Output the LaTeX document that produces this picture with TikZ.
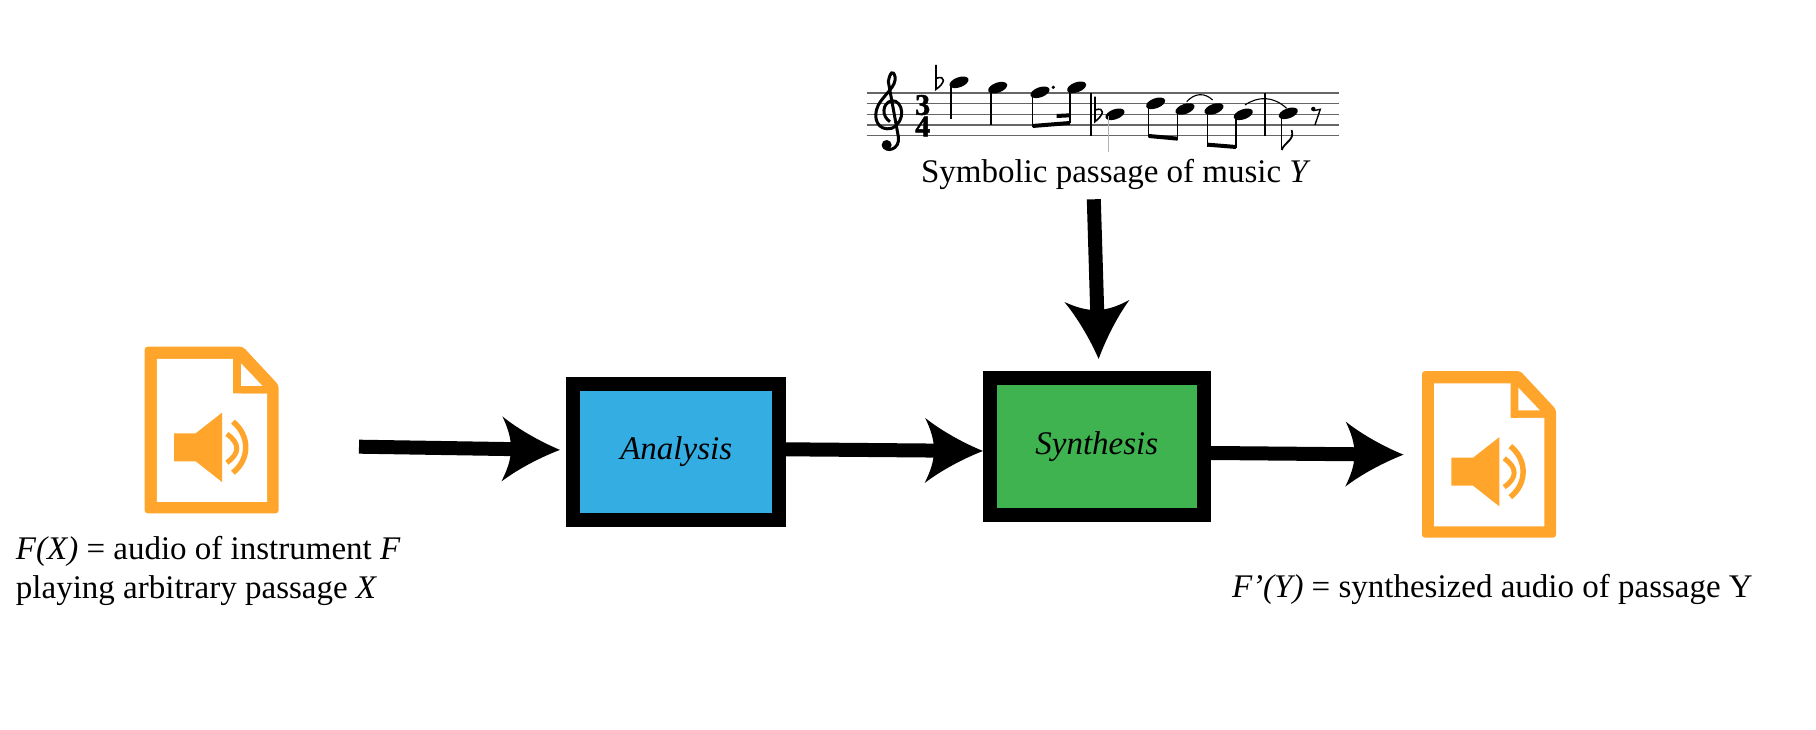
\documentclass[tikz,border=0pt]{standalone}
\usepackage{fontspec}
\setmainfont{Liberation Serif}
\usetikzlibrary{arrows.meta}
\pgfdeclarearrow{
  name=AudioTip,
  setup code={
    \pgfarrowssettipend{0pt}
    \pgfarrowssetlineend{-47pt}
    \pgfarrowssetbackend{-58pt}
    \pgfarrowssetvisualbackend{-49pt}
    \pgfarrowshullpoint{0pt}{0pt}
    \pgfarrowshullpoint{-58pt}{32.5pt}
    \pgfarrowshullpoint{-58pt}{-32.5pt}
  },
  drawing code={
    \pgfpathmoveto{\pgfpointorigin}
    \pgfpathcurveto{\pgfpoint{-20pt}{8pt}}{\pgfpoint{-42pt}{20pt}}{\pgfpoint{-58pt}{32.5pt}}
    \pgfpathcurveto{\pgfpoint{-53pt}{22pt}}{\pgfpoint{-49pt}{12pt}}{\pgfpoint{-49pt}{0pt}}
    \pgfpathcurveto{\pgfpoint{-49pt}{-12pt}}{\pgfpoint{-53pt}{-22pt}}{\pgfpoint{-58pt}{-32.5pt}}
    \pgfpathcurveto{\pgfpoint{-42pt}{-20pt}}{\pgfpoint{-20pt}{-8pt}}{\pgfpointorigin}
    \pgfpathclose
    \pgfusepathqfill
  }
}
\tikzset{
  blockbox/.style={draw=black,line width=14pt,inner sep=0pt,font=\fontsize{33}{38}\selectfont\itshape},
  flowline/.style={line width=14pt,draw=black,-{AudioTip}},
  captiontext/.style={anchor=base west,inner sep=0pt,outer sep=0pt,font=\fontsize{33}{38}\selectfont},
  metertext/.style={inner sep=0pt,align=center,font=\fontsize{30}{21.5}\selectfont\bfseries\addfontfeature{FakeBold=1.5}},
  staffline/.style={draw=staffColor,line width=1.4pt},
  stemline/.style={draw=black,line width=1.4pt},
  beamline/.style={draw=black,line width=4pt},
  headsize/.style={x radius=10pt,y radius=5pt,rotate=20},
  pics/audiofile/.style={code={
    \path[fill=audioColor,rounded corners=3pt] (0,0) -- (134,0) -- (134,128.3) -- (98.3,166.6) -- (0,166.6) -- cycle;
    \path[fill=white] (12.2,11.3) -- (122.4,11.3) -- (122.4,120) -- (88.6,120) -- (88.6,154.3) -- (12.2,154.3) -- cycle;
    \path[fill=audioColor] (88.6,160) -- (96.4,160) -- (96.4,120) -- (88.6,120) -- cycle;
    \path[fill=audioColor] (96.4,154.3) -- (122.4,127.3) -- (122.4,120) -- (96.4,120) -- cycle;
    \path[fill=white] (96.4,150) -- (117.9,127.3) -- (96.4,127.3) -- cycle;
    \path[fill=audioColor] (29.4,52) -- (51.1,52) -- (77.4,31.3) -- (77.4,100.6) -- (51.1,80) -- (29.4,80) -- cycle;
    \path[draw=audioColor,line width=5pt] (82.2,79.3) .. controls (95.5,70) and (95.5,60) .. (82.2,50.6);
    \path[draw=audioColor,line width=5.5pt] (88.3,91.6) .. controls (105.4,78) and (105.4,54) .. (88.3,40.6);
  }}
}
\begin{document}
\begin{tikzpicture}[x=1pt,y=1pt]
\definecolor{fillColor}{RGB}{255,255,255}
\definecolor{audioColor}{RGB}{255,165,43}
\definecolor{analysisColor}{RGB}{51,173,226}
\definecolor{synthesisColor}{RGB}{63,179,80}
\definecolor{staffColor}{gray}{0.4}
\path[use as bounding box,fill=fillColor,fill opacity=0.00] (0,0) rectangle (1816,730);

\pic (audioin) at (144.6,216.7) {audiofile};
\pic (audioout) at (1422,192.3) {audiofile};

\node[blockbox,fill=analysisColor,minimum width=205.5pt,minimum height=136.6pt] (analysis) at (676.2,278) {Analysis};
\node[blockbox,fill=synthesisColor,minimum width=213.7pt,minimum height=137pt] (synthesis) at (1096.8,283.5) {Synthesis};

\coordinate (audiointail) at (359,283.3);
\coordinate (audioouttip) at (1403.5,275.3);
\coordinate (scoretail) at (1093.8,530.7);

\draw[flowline,shorten >=6.5pt] (audiointail) -- ([yshift=2pt]analysis.west);
\draw[flowline] ([yshift=2.7pt]analysis.east) -- ([yshift=-4.5pt]synthesis.west);
\draw[flowline] ([yshift=-6.5pt]synthesis.east) -- (audioouttip);
\draw[flowline,shorten >=12pt] (scoretail) -- ([xshift=2.2pt]synthesis.north);

\node[captiontext] (scorelabel) at (921,547) {Symbolic passage of music \textit{Y}};
\node[captiontext] (inputlabela) at (16,170) {\textit{F(X)} = audio of instrument \textit{F}};
\node[captiontext] (inputlabelb) at (16,131) {playing arbitrary passage \textit{X}};
\node[captiontext] (outputlabel) at (1232,132) {\textit{F’(Y)} = synthesized audio of passage Y};

\begin{scope}[shift={(840,680)},x=0.3333pt,y=-0.3333pt]
\path[staffline] (80,129) -- (1497,129);
\path[staffline] (80,161) -- (1497,161);
\path[staffline] (80,193) -- (1497,193);
\path[staffline] (80,225) -- (1497,225);
\path[staffline] (80,257) -- (1497,257);
\path[stemline] (753,129) -- (753,257);
\path[stemline] (1275,129) -- (1275,257);

\path[draw=black,line width=3pt] (150,215) .. controls (125,200) and (125,160) .. (155,152) .. controls (190,150) and (200,215) .. (155,235) .. controls (115,245) and (95,205) .. (115,165) .. controls (135,130) and (170,110) .. (165,80) .. controls (160,60) and (150,65) .. (145,95) -- (175,260) .. controls (182,300) and (135,310) .. (130,285);
\path[fill=black] (140,285) circle[radius=5pt];
\node[metertext] (meter) at (248,197) {3\\4};

\path[draw=black,line width=1.6pt] (288,45) -- (288,118) .. controls (315,100) and (320,75) .. (288,85);
\path[draw=black,line width=1.6pt] (765,140) -- (765,215) .. controls (792,195) and (797,170) .. (765,180);

\path[fill=black] (357,97) circle[headsize];
\path[stemline] (333,100) -- (333,208);
\path[fill=black] (473,113) circle[headsize];
\path[stemline] (453,118) -- (453,225);
\path[fill=black] (600,127) circle[headsize];
\path[stemline] (578,132) -- (578,230);
\path[fill=black] (640,112) circle[radius=1.8pt];
\path[fill=black] (710,112) circle[headsize];
\path[stemline] (690,117) -- (690,218);
\path[beamline] (578,228) -- (690,219);
\path[beamline] (650,198) -- (690,196);

\path[fill=black] (825,193) circle[headsize];
\path[draw=black!30,line width=1.4pt] (805,198) -- (805,305);
\path[fill=black] (947,160) circle[headsize];
\path[stemline] (926,165) -- (926,262);
\path[fill=black] (1035,177) circle[headsize];
\path[stemline] (1013,182) -- (1013,270);
\path[beamline] (926,258) -- (1013,266);
\path[draw=black,line width=1.1pt] (1040,155) .. controls (1065,128) and (1095,128) .. (1118,150);
\path[fill=black] (1122,177) circle[headsize];
\path[stemline] (1102,182) -- (1102,290);
\path[fill=black] (1210,193) circle[headsize];
\path[stemline] (1188,198) -- (1188,295);
\path[beamline] (1102,284) -- (1188,291);
\path[draw=black,line width=1.1pt] (1215,165) .. controls (1255,138) and (1300,138) .. (1340,175);
\path[fill=black] (1345,190) circle[headsize];
\path[stemline] (1325,195) -- (1325,300);
\path[draw=black,line width=1.8pt] (1325,300) .. controls (1335,275) and (1365,270) .. (1355,240);
\path[fill=black] (1420,177) circle[radius=2.2pt];
\path[stemline] (1420,182) -- (1441,178) -- (1425,225);
\end{scope}
\end{tikzpicture}
\end{document}
